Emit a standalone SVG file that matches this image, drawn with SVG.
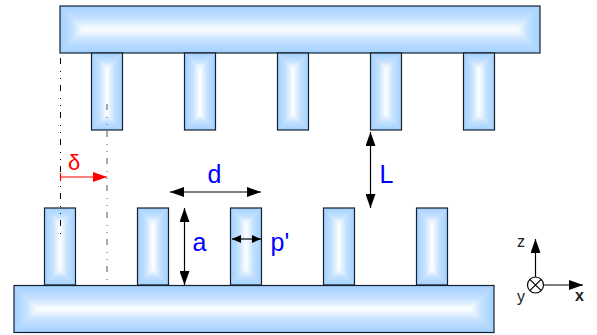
<svg xmlns="http://www.w3.org/2000/svg" xmlns:xlink="http://www.w3.org/1999/xlink" width="597" height="335" viewBox="0 0 597 335">
<style>
text{font-family:"Liberation Sans",Arial,sans-serif}
.lbl{fill:#0000ff;font-size:25px}
.ax{fill:#222;font-size:16px}
.o{fill:none;stroke:#14202e;stroke-width:1.2}
.u{fill:#cfe6ff}
.ln{stroke:#000;stroke-width:1.2;fill:none}
.dd{fill:none;stroke-width:1;stroke-dasharray:6 7 1 6 1 6}
.s0{stop-color:#a2d0ff}
.s1{stop-color:#c6e2ff}
.s2{stop-color:#fff}
</style>
<defs>
<linearGradient id="gT" x1="0" y1="0" x2="0" y2="1"><stop offset="0" class="s0"/><stop offset=".55" class="s1"/><stop offset="1" class="s2"/></linearGradient>
<linearGradient id="gB" x1="0" y1="1" x2="0" y2="0"><stop offset="0" class="s0"/><stop offset=".55" class="s1"/><stop offset="1" class="s2"/></linearGradient>
<linearGradient id="gL" x1="0" y1="0" x2="1" y2="0"><stop offset="0" class="s0"/><stop offset=".55" class="s1"/><stop offset="1" class="s2"/></linearGradient>
<linearGradient id="gR" x1="1" y1="0" x2="0" y2="0"><stop offset="0" class="s0"/><stop offset=".55" class="s1"/><stop offset="1" class="s2"/></linearGradient>
<g id="tooth">
<rect class="u" x="0" y="0" width="31" height="77"/>
<polygon fill="url(#gT)" points="0,0 31,0 15.5,15.5"/>
<polygon fill="url(#gB)" points="0,77 31,77 15.5,61.5"/>
<polygon fill="url(#gL)" points="0,0 15.5,15.5 15.5,61.5 0,77"/>
<polygon fill="url(#gR)" points="31,0 15.5,15.5 15.5,61.5 31,77"/>
<rect class="o" x="0" y="0" width="31" height="77"/>
</g>
<g id="bar">
<rect class="u" x="0" y="0" width="480" height="47"/>
<polygon fill="url(#gT)" points="0,0 480,0 456.5,23.5 23.5,23.5"/>
<polygon fill="url(#gB)" points="0,47 480,47 456.5,23.5 23.5,23.5"/>
<polygon fill="url(#gL)" points="0,0 23.5,23.5 0,47"/>
<polygon fill="url(#gR)" points="480,0 456.5,23.5 480,47"/>
<rect class="o" x="0" y="0" width="480" height="47"/>
</g>
<marker id="ah" markerUnits="userSpaceOnUse" markerWidth="14" markerHeight="10" refX="14" refY="5" orient="auto-start-reverse"><path d="M0,0L14,5L0,10Z" fill="#000"/></marker>
<marker id="ahs" markerUnits="userSpaceOnUse" markerWidth="9" markerHeight="8" refX="9" refY="4" orient="auto-start-reverse"><path d="M0,0L9,4L0,8Z" fill="#000"/></marker>
<marker id="ahr" markerUnits="userSpaceOnUse" markerWidth="14" markerHeight="10" refX="14" refY="5" orient="auto"><path d="M0,0L14,5L0,10Z" fill="#ff0000"/></marker>
</defs>
<rect width="597" height="335" fill="#fff"/>
<g id="top-comb">
<use xlink:href="#bar" href="#bar" x="60" y="6"/>
<use xlink:href="#tooth" href="#tooth" x="91.500" y="53"/>
<use xlink:href="#tooth" href="#tooth" x="184.500" y="53"/>
<use xlink:href="#tooth" href="#tooth" x="277.500" y="53"/>
<use xlink:href="#tooth" href="#tooth" x="370.500" y="53"/>
<use xlink:href="#tooth" href="#tooth" x="463.500" y="53"/>
</g>
<g id="bottom-comb">
<use xlink:href="#tooth" href="#tooth" x="44.500" y="208"/>
<use xlink:href="#tooth" href="#tooth" x="137.500" y="208"/>
<use xlink:href="#tooth" href="#tooth" x="230.500" y="208"/>
<use xlink:href="#tooth" href="#tooth" x="323.500" y="208"/>
<use xlink:href="#tooth" href="#tooth" x="416.500" y="208"/>
<use xlink:href="#bar" href="#bar" x="14" y="285.500"/>
</g>
<g id="connectors">
<line class="dd" stroke="#000" x1="60.500" y1="58" x2="60.500" y2="240"/>
<line class="dd" stroke="#555" x1="107" y1="104" x2="107" y2="285"/>
<line x1="60.500" y1="177" x2="107" y2="177" stroke="#ff0000" stroke-width="1.2" marker-end="url(#ahr)"/>
<line x1="60.500" y1="173" x2="60.500" y2="181" stroke="#ff0000" stroke-width="1.2"/>
<line class="ln" x1="170" y1="192" x2="261" y2="192" marker-start="url(#ah)" marker-end="url(#ah)"/>
<line class="ln" x1="184.500" y1="208" x2="184.500" y2="285" marker-start="url(#ah)" marker-end="url(#ah)"/>
<line class="ln" x1="370.500" y1="132" x2="370.500" y2="208" marker-start="url(#ah)" marker-end="url(#ah)"/>
<line class="ln" x1="232" y1="239" x2="261" y2="239" marker-start="url(#ahs)" marker-end="url(#ahs)"/>
<line class="ln" x1="535.500" y1="277" x2="535.500" y2="239" marker-end="url(#ah)"/>
<line class="ln" x1="544" y1="285" x2="583" y2="285" marker-end="url(#ah)"/>
</g>
<g id="axes-origin">
<circle class="ln" cx="535.500" cy="285" r="8"/>
<path class="ln" d="M529.800,279.300L541.200,290.700M541.200,279.300L529.800,290.700"/>
</g>
<g id="labels">
<text x="74" y="170" text-anchor="middle" fill="#ff0000" font-size="22">δ</text>
<text class="lbl" x="214.500" y="183" text-anchor="middle">d</text>
<text class="lbl" x="379.500" y="183">L</text>
<text class="lbl" x="192.500" y="251">a</text>
<text class="lbl" x="270.500" y="251">p'</text>
<text class="ax" x="517" y="247">z</text>
<text class="ax" x="517" y="302">y</text>
<text class="ax" x="575" y="301" font-weight="bold">x</text>
</g>
</svg>
